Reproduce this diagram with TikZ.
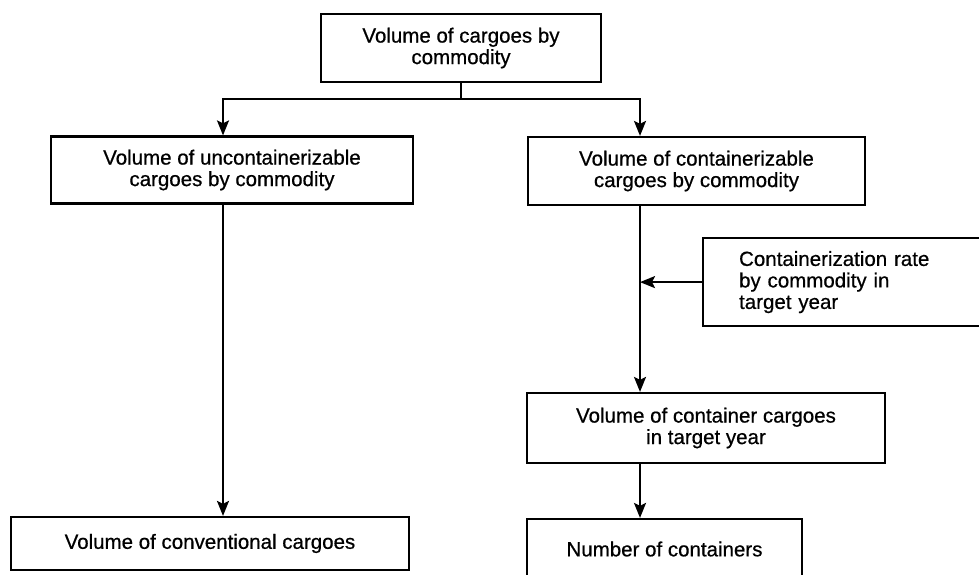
\documentclass[tikz,border=0pt]{standalone}
\usepackage{fontspec}
\setmainfont{Liberation Sans}
\newfontfamily\boxfont{Liberation Sans}[FakeBold=0.6]
\usetikzlibrary{arrows.meta}
\begin{document}
\begin{tikzpicture}[x=1pt,y=-1pt,
  box/.style={draw, line width=2.2pt, align=center, inner sep=0pt,
    font=\boxfont\fontsize{20.5}{21.5}\selectfont},
  conn/.style={line width=2.2pt},
  arr/.style={conn, -{Stealth[length=15pt,width=12pt,inset=3pt]}}]
\clip (0,0) rectangle (979,574);
\fill[white] (0,0) rectangle (979,574);
% boxes
\node[box, minimum width=280pt, minimum height=68pt] (top) at (461,48)
  {Volume of cargoes by\\commodity};
\node[box, minimum width=362pt, minimum height=67pt] (left) at (232,170)
  {Volume of uncontainerizable\\cargoes by commodity};
\node[box, minimum width=337pt, minimum height=68pt] (right) at (696.5,171)
  {Volume of containerizable\\cargoes by commodity};
\node[box, anchor=north west, minimum height=88pt, text width=250pt,
  align=left, inner xsep=36pt] (side) at (702,237)
  {Containerization rate\\by commodity in\\target year};
\node[box, minimum width=358pt, minimum height=70pt] (cont) at (706,428)
  {Volume of container cargoes\\in target year};
\node[box, minimum width=398pt, minimum height=53pt] (conv) at (210,543.5)
  {Volume of conventional cargoes};
\node[box, minimum width=275pt, minimum height=60pt] (num) at (664.5,549)
  {Number of containers};
% junction points
\coordinate (jl) at (223,99);
\coordinate (jr) at (640,99);
% connectors
\draw[conn] (top.south) -- (top.south |- jl);
\draw[arr] (top.south |- jl) -- (jl) -- (jl |- left.north);
\draw[arr] (top.south |- jl) -- (jr) -- (jr |- right.north);
\draw[arr] (jl |- left.south) -- (jl |- conv.north);
\draw[arr] (jr |- right.south) -- (jr |- cont.north);
\draw[arr] (side.west) -- (side.west -| jr);
\draw[arr] (jr |- cont.south) -- (jr |- num.north);
\end{tikzpicture}
\end{document}
